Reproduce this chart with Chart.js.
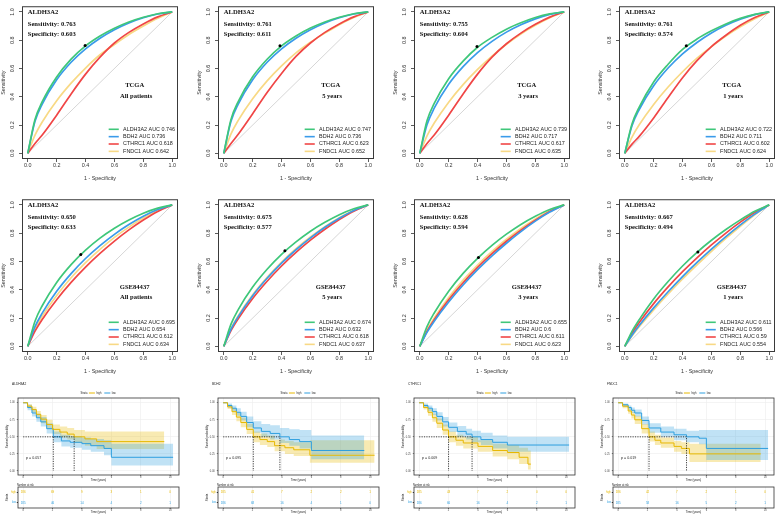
<!DOCTYPE html>
<html>
<head>
<meta charset="utf-8">
<script src="https://cdn.jsdelivr.net/npm/chart.js@4.4.1/dist/chart.umd.min.js"></script>
<style>
  body { margin: 0; background: #fff; }
  #wrap { position: relative; width: 778px; height: 514px; overflow: hidden; background: #fff; }
  canvas { position: absolute; }
</style>
</head>
<body>
<div id="wrap"></div>
<script>
const SANS = "'Liberation Sans', Arial, sans-serif";
const SERIF = "'Liberation Serif', 'Times New Roman', serif";

// ---------- ROC data ----------
const GENES = ["ALDH3A2", "BDH2", "CTHRC1", "FNDC1"];
const ROC_COLORS = ["#3FC77A", "#3A9BEA", "#F04646", "#F8D985"];
const FPR = [0, 0.05, 0.1, 0.2, 0.3, 0.4, 0.5, 0.6, 0.7, 0.8, 0.9, 1];
const DIAG = [0, 1];
const ROC_TICKS = [0, 0.2, 0.4, 0.6, 0.8, 1.0];

const PANEL_COHORT = ["TCGA", "TCGA", "TCGA", "TCGA", "GSE84437", "GSE84437", "GSE84437", "GSE84437"];
const PANEL_GROUP = ["All patients", "5 years", "3 years", "1 years", "All patients", "5 years", "3 years", "1 years"];
const PANEL_SENS = [0.763, 0.761, 0.755, 0.761, 0.650, 0.675, 0.628, 0.667];
const PANEL_SPEC = [0.603, 0.611, 0.604, 0.574, 0.633, 0.577, 0.594, 0.494];
const PANEL_AUC = [
  [0.746, 0.736, 0.618, 0.642],
  [0.747, 0.736, 0.623, 0.652],
  [0.739, 0.717, 0.617, 0.635],
  [0.722, 0.711, 0.602, 0.624],
  [0.695, 0.654, 0.612, 0.634],
  [0.674, 0.632, 0.618, 0.637],
  [0.655, 0.6, 0.611, 0.623],
  [0.611, 0.566, 0.59, 0.554]
];

// sensitivity at each FPR value, one row per gene (ALDH3A2, BDH2, CTHRC1, FNDC1)
const tcgaAllTpr = [
  [0, 0.239, 0.365, 0.540, 0.666, 0.760, 0.830, 0.885, 0.929, 0.962, 0.987, 1],
  [0, 0.226, 0.348, 0.520, 0.644, 0.739, 0.814, 0.874, 0.922, 0.959, 0.985, 1],
  [0, 0.070, 0.130, 0.270, 0.420, 0.560, 0.680, 0.780, 0.855, 0.915, 0.965, 1],
  [0, 0.129, 0.222, 0.372, 0.496, 0.603, 0.697, 0.770, 0.840, 0.900, 0.955, 1]
];
const tcga5yTpr = [
  [0, 0.240, 0.366, 0.541, 0.665, 0.760, 0.830, 0.886, 0.929, 0.962, 0.987, 1],
  [0, 0.226, 0.348, 0.520, 0.644, 0.739, 0.814, 0.874, 0.922, 0.959, 0.985, 1],
  [0, 0.070, 0.135, 0.280, 0.430, 0.565, 0.685, 0.780, 0.855, 0.915, 0.965, 1],
  [0, 0.137, 0.233, 0.386, 0.512, 0.618, 0.710, 0.785, 0.850, 0.910, 0.960, 1]
];
const tcga3yTpr = [
  [0, 0.230, 0.353, 0.528, 0.652, 0.750, 0.820, 0.878, 0.923, 0.960, 0.986, 1],
  [0, 0.202, 0.319, 0.488, 0.613, 0.712, 0.792, 0.857, 0.909, 0.951, 0.982, 1],
  [0, 0.070, 0.130, 0.270, 0.420, 0.560, 0.680, 0.775, 0.850, 0.912, 0.963, 1],
  [0, 0.124, 0.214, 0.362, 0.486, 0.593, 0.687, 0.771, 0.844, 0.905, 0.958, 1]
];
const tcga1yTpr = [
  [0, 0.208, 0.327, 0.505, 0.630, 0.735, 0.808, 0.866, 0.915, 0.954, 0.983, 1],
  [0, 0.195, 0.310, 0.478, 0.603, 0.703, 0.784, 0.851, 0.905, 0.948, 0.981, 1],
  [0, 0.065, 0.120, 0.250, 0.395, 0.535, 0.655, 0.755, 0.835, 0.905, 0.960, 1],
  [0, 0.115, 0.202, 0.346, 0.469, 0.577, 0.673, 0.755, 0.830, 0.895, 0.952, 1]
];
const gseAllTpr = [
  [0, 0.178, 0.287, 0.452, 0.578, 0.680, 0.765, 0.835, 0.893, 0.941, 0.977, 1],
  [0, 0.139, 0.235, 0.389, 0.514, 0.621, 0.712, 0.792, 0.861, 0.920, 0.967, 1],
  [0, 0.107, 0.190, 0.330, 0.452, 0.560, 0.657, 0.744, 0.823, 0.893, 0.954, 1],
  [0, 0.124, 0.213, 0.360, 0.485, 0.592, 0.686, 0.770, 0.843, 0.907, 0.961, 1]
];
const gse5yTpr = [
  [0, 0.157, 0.260, 0.419, 0.545, 0.650, 0.738, 0.814, 0.877, 0.931, 0.973, 1],
  [0, 0.121, 0.210, 0.358, 0.481, 0.589, 0.683, 0.767, 0.842, 0.906, 0.961, 1],
  [0, 0.111, 0.195, 0.338, 0.460, 0.568, 0.664, 0.751, 0.828, 0.897, 0.956, 1],
  [0, 0.125, 0.216, 0.364, 0.488, 0.596, 0.690, 0.773, 0.846, 0.909, 0.962, 1]
];
const gse3yTpr = [
  [0, 0.140, 0.236, 0.390, 0.516, 0.622, 0.714, 0.793, 0.862, 0.920, 0.968, 1],
  [0, 0.099, 0.178, 0.314, 0.434, 0.542, 0.640, 0.729, 0.811, 0.885, 0.949, 1],
  [0, 0.106, 0.189, 0.329, 0.450, 0.558, 0.655, 0.743, 0.822, 0.892, 0.954, 1],
  [0, 0.115, 0.201, 0.345, 0.468, 0.575, 0.671, 0.757, 0.833, 0.901, 0.958, 1]
];
const gse1yTpr = [
  [0, 0.106, 0.189, 0.335, 0.458, 0.568, 0.665, 0.750, 0.826, 0.894, 0.955, 1],
  [0, 0.079, 0.148, 0.272, 0.386, 0.493, 0.593, 0.687, 0.776, 0.859, 0.935, 1],
  [0, 0.093, 0.169, 0.302, 0.420, 0.528, 0.626, 0.717, 0.801, 0.878, 0.946, 1],
  [0, 0.073, 0.138, 0.258, 0.370, 0.476, 0.576, 0.672, 0.763, 0.849, 0.930, 1]
];
const PANEL_TPR = [tcgaAllTpr, tcga5yTpr, tcga3yTpr, tcga1yTpr, gseAllTpr, gse5yTpr, gse3yTpr, gse1yTpr];

// ---------- Kaplan-Meier data (time in years) ----------
const KM_GENES = ["ALDH3A2", "BDH2", "CTHRC1", "FNDC1"];
const KM_PVAL = ["0.057", "0.095", "0.009", "0.019"];
const KM_MEDIAN_HIGH = [3.47, 2.05, 2.0, 2.1];
const KM_MEDIAN_LOW = [2.05, 3.86, 3.6, 4.65];
const KM_TICKS = [0, 2, 4, 6, 8, 10];
const SURV_TICKS = [0, 0.25, 0.5, 0.75, 1];
const HIGH_COL = "#E7B800";
const LOW_COL = "#2E9FDF";

const aldhHighTime  = [0, 0.3, 0.6, 0.9, 1.2, 1.6, 2.0, 2.5, 3.0, 3.47, 4.2, 5.0, 9.6];
const aldhHighSurv  = [1, 0.95, 0.90, 0.83, 0.76, 0.68, 0.61, 0.57, 0.54, 0.50, 0.47, 0.43, 0.43];
const aldhHighLower = [1, 0.92, 0.86, 0.78, 0.70, 0.62, 0.54, 0.49, 0.46, 0.41, 0.37, 0.32, 0.32];
const aldhHighUpper = [1, 0.98, 0.94, 0.88, 0.82, 0.75, 0.68, 0.65, 0.63, 0.60, 0.58, 0.58, 0.58];
const aldhLowTime   = [0, 0.3, 0.6, 0.9, 1.2, 1.6, 2.05, 2.6, 3.2, 4.0, 4.6, 5.5, 6.0, 10.2];
const aldhLowSurv   = [1, 0.93, 0.85, 0.78, 0.72, 0.62, 0.50, 0.44, 0.42, 0.40, 0.37, 0.33, 0.20, 0.20];
const aldhLowLower  = [1, 0.89, 0.80, 0.72, 0.65, 0.55, 0.42, 0.36, 0.34, 0.31, 0.28, 0.23, 0.08, 0.08];
const aldhLowUpper  = [1, 0.97, 0.90, 0.84, 0.79, 0.70, 0.58, 0.53, 0.51, 0.49, 0.47, 0.45, 0.40, 0.40];

const bdhHighTime  = [0, 0.3, 0.6, 0.9, 1.2, 1.6, 2.05, 2.5, 3.0, 3.5, 4.2, 4.8, 5.9, 10.3];
const bdhHighSurv  = [1, 0.94, 0.87, 0.79, 0.71, 0.61, 0.50, 0.46, 0.43, 0.37, 0.34, 0.31, 0.23, 0.23];
const bdhHighLower = [1, 0.91, 0.82, 0.73, 0.64, 0.54, 0.42, 0.38, 0.35, 0.29, 0.25, 0.22, 0.12, 0.12];
const bdhHighUpper = [1, 0.97, 0.92, 0.85, 0.78, 0.69, 0.58, 0.55, 0.52, 0.46, 0.44, 0.42, 0.45, 0.45];
const bdhLowTime   = [0, 0.3, 0.6, 0.9, 1.2, 1.6, 2.05, 2.6, 3.2, 3.86, 4.5, 5.2, 6.0, 9.6];
const bdhLowSurv   = [1, 0.96, 0.92, 0.86, 0.80, 0.71, 0.63, 0.58, 0.55, 0.50, 0.46, 0.43, 0.30, 0.30];
const bdhLowLower  = [1, 0.93, 0.88, 0.81, 0.74, 0.64, 0.56, 0.50, 0.46, 0.41, 0.37, 0.33, 0.17, 0.17];
const bdhLowUpper  = [1, 0.99, 0.96, 0.92, 0.87, 0.80, 0.73, 0.69, 0.67, 0.63, 0.61, 0.60, 0.52, 0.52];

const cthHighTime  = [0, 0.3, 0.6, 0.9, 1.2, 1.6, 2.0, 2.5, 3.0, 4.0, 5.0, 6.0, 6.8, 7.4, 7.6];
const cthHighSurv  = [1, 0.93, 0.86, 0.78, 0.70, 0.60, 0.50, 0.45, 0.41, 0.36, 0.30, 0.27, 0.20, 0.10, 0.10];
const cthHighLower = [1, 0.90, 0.81, 0.72, 0.63, 0.53, 0.42, 0.37, 0.33, 0.28, 0.21, 0.17, 0.10, 0.02, 0.02];
const cthHighUpper = [1, 0.97, 0.91, 0.84, 0.77, 0.68, 0.58, 0.53, 0.50, 0.45, 0.40, 0.38, 0.34, 0.30, 0.30];
const cthLowTime   = [0, 0.3, 0.6, 0.9, 1.2, 1.6, 2.0, 2.6, 3.2, 3.6, 4.2, 5.0, 6.0, 10.2];
const cthLowSurv   = [1, 0.96, 0.92, 0.87, 0.80, 0.72, 0.64, 0.58, 0.54, 0.50, 0.46, 0.42, 0.38, 0.38];
const cthLowLower  = [1, 0.93, 0.88, 0.82, 0.74, 0.65, 0.57, 0.50, 0.46, 0.42, 0.38, 0.33, 0.28, 0.28];
const cthLowUpper  = [1, 0.99, 0.96, 0.92, 0.86, 0.79, 0.71, 0.66, 0.62, 0.59, 0.56, 0.52, 0.50, 0.50];

const fndHighTime  = [0, 0.3, 0.68, 0.9, 1.13, 1.6, 2.1, 2.5, 2.9, 3.8, 4.3, 4.85, 9.7];
const fndHighSurv  = [1, 0.95, 0.88, 0.82, 0.75, 0.62, 0.50, 0.45, 0.41, 0.36, 0.33, 0.25, 0.25];
const fndHighLower = [1, 0.92, 0.84, 0.77, 0.69, 0.55, 0.43, 0.38, 0.34, 0.28, 0.25, 0.13, 0.13];
const fndHighUpper = [1, 0.98, 0.92, 0.87, 0.81, 0.69, 0.58, 0.53, 0.49, 0.44, 0.42, 0.40, 0.40];
const fndLowTime   = [0, 0.3, 0.68, 0.9, 1.13, 1.6, 2.1, 2.9, 3.8, 4.65, 5.5, 6.0, 10.2];
const fndLowSurv   = [1, 0.97, 0.93, 0.89, 0.85, 0.74, 0.63, 0.57, 0.53, 0.50, 0.48, 0.33, 0.33];
const fndLowLower  = [1, 0.94, 0.89, 0.85, 0.80, 0.68, 0.56, 0.50, 0.45, 0.42, 0.39, 0.16, 0.16];
const fndLowUpper  = [1, 0.99, 0.96, 0.93, 0.90, 0.80, 0.70, 0.65, 0.62, 0.59, 0.60, 0.60, 0.60];

const KM_HIGH = [
  [aldhHighTime, aldhHighSurv, aldhHighLower, aldhHighUpper],
  [bdhHighTime, bdhHighSurv, bdhHighLower, bdhHighUpper],
  [cthHighTime, cthHighSurv, cthHighLower, cthHighUpper],
  [fndHighTime, fndHighSurv, fndHighLower, fndHighUpper]
];
const KM_LOW = [
  [aldhLowTime, aldhLowSurv, aldhLowLower, aldhLowUpper],
  [bdhLowTime, bdhLowSurv, bdhLowLower, bdhLowUpper],
  [cthLowTime, cthLowSurv, cthLowLower, cthLowUpper],
  [fndLowTime, fndLowSurv, fndLowLower, fndLowUpper]
];

// numbers at risk at KM_TICKS
const RISK_HIGH = [[186, 69, 9, 3, 1, 0], [185, 41, 7, 2, 2, 1], [185, 43, 7, 2, 0, 0], [186, 42, 7, 2, 1, 0]];
const RISK_LOW  = [[185, 46, 14, 4, 2, 1], [186, 68, 16, 4, 1, 0], [186, 66, 16, 4, 2, 1], [185, 58, 16, 5, 2, 1]];
const STRATA = ["high", "low"];

// ---------- layout ----------
const ROC_BOX_X = [22, 218, 414, 619];
const ROC_BOX_Y = [1, 194];
const KM_BOX_X = [18, 218, 414, 613];

function addCanvas(left, top, w, h) {
  const c = document.createElement("canvas");
  c.width = w; c.height = h;
  c.style.left = left + "px"; c.style.top = top + "px";
  c.style.width = w + "px"; c.style.height = h + "px";
  document.getElementById("wrap").appendChild(c);
  return c;
}

const pts = (xs, ys) => xs.map((x, i) => ({ x, y: ys[i] }));

const rocPanel = {
  id: "rocPanel",
  afterDraw(chart, args, o) {
    const { ctx, chartArea: a, scales: { x, y } } = chart;
    ctx.save();
    ctx.strokeStyle = "#3a3a3a"; ctx.lineWidth = 1;
    ctx.strokeRect(a.left + 0.5, a.top + 0.5, a.width - 1, a.height - 1);

    ctx.fillStyle = "#111";
    ctx.textBaseline = "middle";
    ctx.textAlign = "left";
    ctx.font = `bold 6.6px ${SERIF}`;
    ctx.fillText("ALDH3A2", x.getPixelForValue(0), y.getPixelForValue(1.0));
    ctx.fillText("Sensitivity: " + o.sens.toFixed(3), x.getPixelForValue(0), y.getPixelForValue(0.91));
    ctx.fillText("Specificity: " + o.spec.toFixed(3), x.getPixelForValue(0), y.getPixelForValue(0.84));
    ctx.textAlign = "center";
    ctx.fillText(o.cohort, x.getPixelForValue(0.74), y.getPixelForValue(o.row === 0 ? 0.48 : 0.42));
    ctx.fillText(o.group, x.getPixelForValue(0.75), y.getPixelForValue(o.row === 0 ? 0.40 : 0.35));

    const legY = [0.17, 0.118, 0.066, 0.014];
    ctx.textAlign = "left";
    ctx.font = `5.4px ${SANS}`;
    ctx.fillStyle = "#222";
    GENES.forEach((g, k) => {
      const py = y.getPixelForValue(legY[k]);
      ctx.strokeStyle = ROC_COLORS[k]; ctx.lineWidth = 1.6;
      ctx.beginPath();
      ctx.moveTo(x.getPixelForValue(0.56), py);
      ctx.lineTo(x.getPixelForValue(0.63), py);
      ctx.stroke();
      ctx.fillText(`${g} AUC ${o.auc[k]}`, x.getPixelForValue(0.66), py);
    });
    ctx.restore();
  }
};

function rocAxis(title, vertical) {
  return {
    type: "linear", min: -0.04, max: 1.04,
    afterBuildTicks: s => { s.ticks = ROC_TICKS.map(v => ({ value: v })); },
    afterFit: s => { if (vertical) s.width = 22; else s.height = 26; },
    grid: { drawOnChartArea: false, drawTicks: true, tickLength: 3, color: "#333", lineWidth: 0.8 },
    border: { display: false },
    ticks: {
      autoSkip: false, padding: vertical ? 3 : 0, color: "#333",
      font: { family: SANS, size: 5.4 },
      minRotation: vertical ? 90 : 0, maxRotation: vertical ? 90 : 0,
      crossAlign: vertical ? "center" : "near",
      callback: v => Number(v).toFixed(1)
    },
    title: { display: true, text: title, color: "#333", font: { family: SANS, size: 5.4 },
             padding: vertical ? { top: 0, bottom: 0 } : { top: 0, bottom: 3 } }
  };
}

function rocChart(i) {
  const col = i % 4, row = Math.floor(i / 4);
  const cv = addCanvas(ROC_BOX_X[col] - 22, ROC_BOX_Y[row] - 1, 182, 185);
  const datasets = [{
    data: [{ x: 1 - PANEL_SPEC[i], y: PANEL_SENS[i] }],
    showLine: false, pointRadius: 1.5, pointBackgroundColor: "#000", pointBorderColor: "#000", pointBorderWidth: 0
  }];
  PANEL_TPR[i].forEach((tpr, k) => datasets.push({
    data: pts(FPR, tpr), borderColor: ROC_COLORS[k], borderWidth: 1.7,
    pointRadius: 0, cubicInterpolationMode: "monotone"
  }));
  datasets.push({ data: pts(DIAG, DIAG), borderColor: "#d6d6d6", borderWidth: 1, pointRadius: 0 });

  new Chart(cv, {
    type: "line",
    data: { datasets },
    options: {
      responsive: false, animation: false, devicePixelRatio: 1, events: [],
      layout: { padding: { top: 1, right: 2, left: 0, bottom: 0 } },
      plugins: {
        legend: { display: false }, tooltip: { enabled: false },
        rocPanel: { sens: PANEL_SENS[i], spec: PANEL_SPEC[i], cohort: PANEL_COHORT[i],
                    group: PANEL_GROUP[i], auc: PANEL_AUC[i], row }
      },
      scales: { x: rocAxis("1 - Specificity", false), y: rocAxis("Sensitivity", true) }
    },
    plugins: [rocPanel]
  });
}

// ---------- KM ----------
const kmPanel = {
  id: "kmPanel",
  afterDraw(chart, args, o) {
    const { ctx, chartArea: a, scales: { x, y } } = chart;
    ctx.save();
    ctx.strokeStyle = "#333"; ctx.lineWidth = 0.8;
    ctx.strokeRect(a.left, a.top, a.width, a.height);
    ctx.fillStyle = "#222"; ctx.textBaseline = "middle"; ctx.textAlign = "left";
    ctx.font = `3.2px ${SANS}`;
    ctx.fillText(o.gene, a.left - 6, a.top - 14);

    ctx.font = `2.6px ${SANS}`;
    let lx = a.left + a.width / 2 - 18;
    const ly = a.top - 5;
    ctx.fillText("Strata", lx, ly);
    lx += ctx.measureText("Strata").width + 1.5;
    [[STRATA[0], HIGH_COL], [STRATA[1], LOW_COL]].forEach(([lab, col]) => {
      ctx.strokeStyle = col; ctx.lineWidth = 1;
      ctx.beginPath(); ctx.moveTo(lx, ly); ctx.lineTo(lx + 6, ly); ctx.stroke();
      lx += 7.5;
      ctx.fillText(lab, lx, ly);
      lx += ctx.measureText(lab).width + 3;
    });

    ctx.font = `3.6px ${SANS}`;
    ctx.fillText("p = " + o.p, x.getPixelForValue(0.2), y.getPixelForValue(0.19));
    ctx.restore();
  }
};

function kmXAxis(h) {
  return {
    type: "linear", min: -0.35, max: 10.6,
    afterBuildTicks: s => { s.ticks = KM_TICKS.map(v => ({ value: v })); },
    afterFit: s => { s.height = h; },
    grid: { color: "#EDEDED", lineWidth: 0.6, tickLength: 1.2, tickColor: "#333" },
    border: { display: false },
    ticks: { autoSkip: false, padding: 0, color: "#4d4d4d", font: { family: SANS, size: 2.6 }, maxRotation: 0 },
    title: { display: true, text: "Time (years)", color: "#222", font: { family: SANS, size: 2.8 }, padding: { top: 0, bottom: 0.3 } }
  };
}

function kmChart(g) {
  const cv = addCanvas(KM_BOX_X[g] - 14, 380, 177, 102);
  const [hT, hS, hL, hU] = KM_HIGH[g];
  const [lT, lS, lL, lU] = KM_LOW[g];
  const mh = KM_MEDIAN_HIGH[g], ml = KM_MEDIAN_LOW[g];
  const mMax = Math.max(mh, ml), mMin = Math.min(mh, ml);
  const band = (data, fill, bg) => ({ data, stepped: true, pointRadius: 0, borderColor: "transparent",
                                      borderWidth: 0, fill, backgroundColor: bg });
  const datasets = [
    { data: [{ x: 0, y: 0.5 }, { x: mMax, y: 0.5 }, { x: mMax, y: 0 }, { x: mMax, y: null },
             { x: mMin, y: 0.5 }, { x: mMin, y: 0 }],
      borderColor: "#111", borderWidth: 0.8, borderDash: [1.2, 1.2], pointRadius: 0, spanGaps: false },
    { data: pts(hT, hS), stepped: true, borderColor: HIGH_COL, borderWidth: 1, pointRadius: 0 },
    { data: pts(lT, lS), stepped: true, borderColor: LOW_COL, borderWidth: 1, pointRadius: 0 },
    band(pts(lT, lU), "+1", "rgba(46,159,223,0.3)"),
    band(pts(lT, lL), false, "transparent"),
    band(pts(hT, hU), "+1", "rgba(231,184,0,0.3)"),
    band(pts(hT, hL), false, "transparent")
  ];
  new Chart(cv, {
    type: "line",
    data: { datasets },
    options: {
      responsive: false, animation: false, devicePixelRatio: 1, events: [],
      layout: { padding: { top: 18, right: 2, left: 0, bottom: 0 } },
      plugins: { legend: { display: false }, tooltip: { enabled: false },
                 kmPanel: { gene: KM_GENES[g], p: KM_PVAL[g] } },
      scales: {
        x: kmXAxis(7),
        y: {
          type: "linear", min: -0.06, max: 1.07,
          afterBuildTicks: s => { s.ticks = SURV_TICKS.map(v => ({ value: v })); },
          afterFit: s => { s.width = 14; },
          grid: { color: "#EDEDED", lineWidth: 0.6, tickLength: 1.2, tickColor: "#333" },
          border: { display: false },
          ticks: { autoSkip: false, padding: 2, color: "#4d4d4d", font: { family: SANS, size: 2.6 },
                   callback: v => Number(v).toFixed(2) },
          title: { display: true, text: "Survival probability", color: "#222",
                   font: { family: SANS, size: 2.8 }, padding: { top: 1.5, bottom: 0 } }
        }
      }
    },
    plugins: [kmPanel]
  });
}

const riskTable = {
  id: "riskTable",
  afterDraw(chart, args, o) {
    const { ctx, chartArea: a, scales: { x, y } } = chart;
    ctx.save();
    ctx.strokeStyle = "#333"; ctx.lineWidth = 0.8;
    ctx.strokeRect(a.left, a.top, a.width, a.height);
    ctx.textBaseline = "middle";
    ctx.textAlign = "left";
    ctx.fillStyle = "#222";
    ctx.font = `2.6px ${SANS}`;
    ctx.fillText("Number at risk", a.left - 1, a.top - 2.2);
    ctx.textAlign = "center";
    ctx.font = `3px ${SANS}`;
    [[o.high, HIGH_COL], [o.low, LOW_COL]].forEach(([row, col], r) => {
      ctx.fillStyle = col;
      const py = y.getPixelForTick(r);
      row.forEach((n, k) => ctx.fillText(String(n), x.getPixelForValue(KM_TICKS[k]), py));
    });
    ctx.restore();
  }
};

function riskChart(g) {
  const cv = addCanvas(KM_BOX_X[g] - 14, 482, 177, 32);
  new Chart(cv, {
    type: "line",
    data: {
      datasets: STRATA.map(s => ({ data: KM_TICKS.map(t => ({ x: t, y: s })), showLine: false, pointRadius: 0 }))
    },
    options: {
      responsive: false, animation: false, devicePixelRatio: 1, events: [],
      layout: { padding: { top: 5, right: 2, left: 0, bottom: 0 } },
      plugins: { legend: { display: false }, tooltip: { enabled: false },
                 riskTable: { high: RISK_HIGH[g], low: RISK_LOW[g] } },
      scales: {
        x: kmXAxis(6),
        y: {
          type: "category", labels: STRATA, offset: true,
          afterFit: s => { s.width = 14; },
          grid: { drawOnChartArea: false, tickLength: 1.2, tickColor: "#333", color: "#333" },
          border: { display: false },
          ticks: { padding: 1, color: c => (c.index === 0 ? HIGH_COL : LOW_COL), font: { family: SANS, size: 2.6 } },
          title: { display: true, text: "Strata", color: "#222", font: { family: SANS, size: 2.8 },
                   padding: { top: 2, bottom: 0 } }
        }
      }
    },
    plugins: [riskTable]
  });
}

for (let i = 0; i < 8; i++) rocChart(i);
for (let g = 0; g < 4; g++) { kmChart(g); riskChart(g); }
</script>
</body>
</html>
